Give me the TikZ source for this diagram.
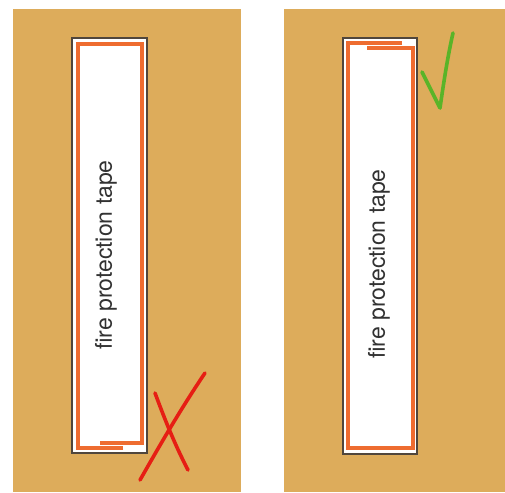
\documentclass[tikz,border=0pt]{standalone}
\usepackage{fontspec}
\setmainfont{TeX Gyre Heros}
\definecolor{bgtan}{RGB}{221,172,91}
\definecolor{tapeorange}{RGB}{238,108,48}
\definecolor{boxedge}{RGB}{80,70,60}
\definecolor{xred}{RGB}{230,30,20}
\definecolor{okgreen}{RGB}{90,180,40}
\definecolor{txt}{RGB}{50,50,50}
\tikzset{
  panel/.style={fill=bgtan, draw=none},
  tapebox/.style={fill=white, draw=boxedge, line width=1.6pt},
  tape/.style={draw=tapeorange, line width=4pt, line join=miter},
  label/.style={rotate=90, text=txt, font=\fontsize{23}{26}\selectfont, inner sep=0pt},
  mark stroke/.style={line width=3.6pt, line cap=round, line join=round}
}
\begin{document}
\begin{tikzpicture}[x=1pt, y=-1pt]
\useasboundingbox (0,0) rectangle (505,492);
% panels
\fill[panel] (13,9) rectangle (241,492);
\fill[panel] (284,9) rectangle (505,492);
% left box
\draw[tapebox] (72,38) rectangle (147,453);
\draw[tape] (123,448) -- (78,448) -- (78,44) -- (142,44) -- (142,443) -- (100,443);
\node[label] (lt) at (106,255) {fire protection tape};
% right box
\draw[tapebox] (343,38) rectangle (417,454);
\draw[tape] (402,43) -- (348,43) -- (348,448) -- (413,448) -- (413,48) -- (367,48);
\node[label] (rt) at (379,264) {fire protection tape};
% red X
\draw[xred, mark stroke] (205,373) .. controls (180,410) and (160,445) .. (140,480);
\draw[xred, mark stroke] (155,393) .. controls (165,420) and (175,445) .. (188,470);
% green check
\draw[okgreen, mark stroke] (422,72) -- (440,108) .. controls (444,80) and (448,55) .. (453,33);
\end{tikzpicture}
\end{document}
